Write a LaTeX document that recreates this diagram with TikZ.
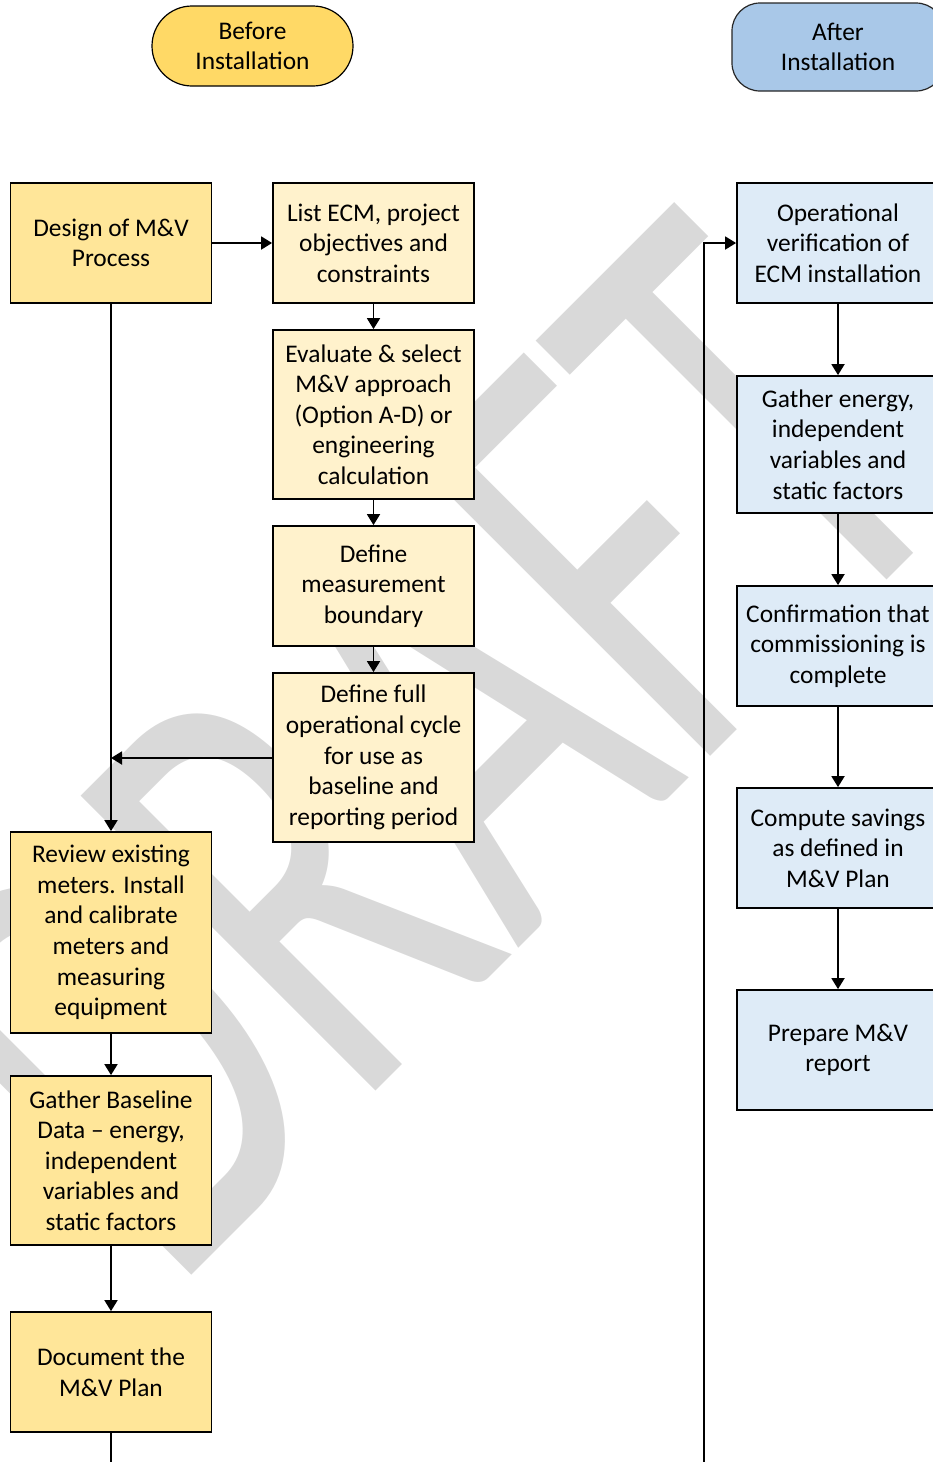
\documentclass[tikz,border=0pt]{standalone}
\usepackage{fontspec}
\setmainfont{Carlito}
\usetikzlibrary{arrows.meta}
\definecolor{goldA}{HTML}{FFD966}
\definecolor{goldB}{HTML}{FFE699}
\definecolor{goldC}{HTML}{FFF2CC}
\definecolor{blueA}{HTML}{A9C8E8}
\definecolor{blueB}{HTML}{DEEBF7}
\definecolor{wmgray}{HTML}{D9D9D9}
\tikzset{
  box/.style={draw=black, line width=1.8pt, align=center, inner sep=0pt,
    minimum width=201pt, font=\fontsize{25.4}{30.6}\selectfont},
  gbox/.style={box, fill=goldB},
  lbox/.style={box, fill=goldC},
  bbox/.style={box, fill=blueB, minimum width=202pt},
  arr/.style={line width=1.8pt, -{Triangle[length=11pt,width=13pt]}},
  conn/.style={line width=1.8pt},
  wm/.style={transform shape, anchor=base, inner sep=0pt, text=wmgray,
    font=\fontsize{650}{650}\selectfont}
}
\begin{document}
\begin{tikzpicture}[x=1pt,y=-1pt]
\useasboundingbox (0,0) rectangle (933,1462);
\clip (0,0) rectangle (933,1462);
% watermark
\begin{scope}[shift={(572,895)}, rotate=45, xscale=0.65]
  \node[wm] (draft) at (0,0) {DRAFT};
\end{scope}
% headers
\node[draw=black, line width=1.2pt, fill=goldA, rounded corners=40pt,
  minimum width=201pt, minimum height=80pt, align=center, inner sep=0pt,
  font=\fontsize{25.4}{30.6}\selectfont] (before) at (252.5,46) {Before\\Installation};
\node[draw=black!85, line width=1.2pt, fill=blueA, rounded corners=28pt,
  minimum width=212pt, minimum height=88pt, align=center, inner sep=0pt,
  font=\fontsize{25.4}{30.6}\selectfont] (after) at (838,47) {After\\Installation};
% left column
\node[gbox, minimum height=120pt] (design) at (111,243) {Design of M\&V\\Process};
\node[gbox, minimum height=201pt] (review) at (111,932.5) {Review existing\\meters. Install\\and calibrate\\meters and\\measuring\\equipment};
\node[gbox, minimum height=169pt] (gbase) at (111,1160.5) {Gather Baseline\\Data – energy,\\independent\\variables and\\static factors};
\node[gbox, minimum height=120pt] (doc) at (111,1372) {Document the\\M\&V Plan};
% middle column
\node[lbox, minimum height=120pt] (list) at (373.5,243) {List ECM, project\\objectives and\\constraints};
\node[lbox, minimum height=169pt] (eval) at (373.5,414.5) {Evaluate \& select\\M\&V approach\\(Option A-D) or\\engineering\\calculation};
\node[lbox, minimum height=120pt] (bound) at (373.5,586) {Define\\measurement\\boundary};
\node[lbox, minimum height=169pt] (full) at (373.5,757.5) {Define full\\operational cycle\\for use as\\baseline and\\reporting period};
% right column
\node[bbox, minimum height=120pt] (opv) at (838,243) {Operational\\verification of\\ECM installation};
\node[bbox, minimum height=137pt] (gen) at (838,444.5) {Gather energy,\\independent\\variables and\\static factors};
\node[bbox, minimum height=120pt] (conf) at (838,646) {Confirmation that\\commissioning is\\complete};
\node[bbox, minimum height=120pt] (comp) at (838,848) {Compute savings\\as defined in\\M\&V Plan};
\node[bbox, minimum height=120pt] (prep) at (838,1050) {Prepare M\&V\\report};
% connectors
\draw[arr] (design) -- (list);
\draw[arr] (list) -- (eval);
\draw[arr] (eval) -- (bound);
\draw[arr] (bound) -- (full);
\draw[arr] (design) -- (review);
\coordinate (join) at (111,758);
\draw[arr] (full.west |- join) -- (join);
\draw[arr] (review) -- (gbase);
\draw[arr] (gbase) -- (doc);
\coordinate (docout) at (111,1475);
\draw[conn] (doc.south) -- (docout);
\coordinate (feed) at (704,1475);
\draw[arr] (feed) |- (opv.west);
\draw[arr] (opv) -- (gen);
\draw[arr] (gen) -- (conf);
\draw[arr] (conf) -- (comp);
\draw[arr] (comp) -- (prep);
\end{tikzpicture}
\end{document}
